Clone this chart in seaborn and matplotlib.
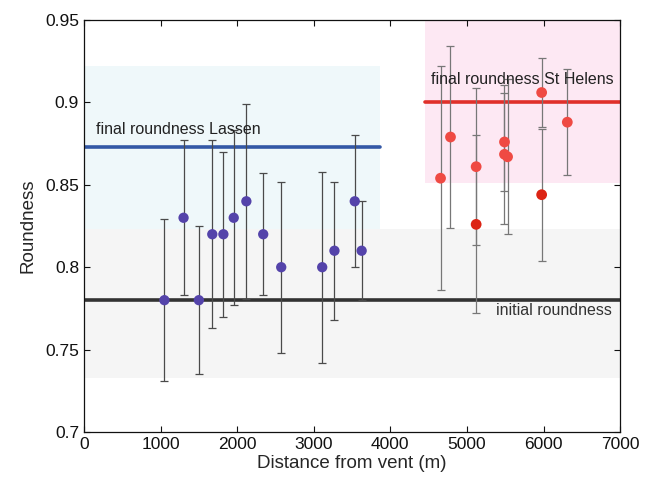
import matplotlib
matplotlib.use("Agg")
import matplotlib.pyplot as plt
import seaborn as sns
import pandas as pd
from matplotlib.patches import Rectangle
from matplotlib.ticker import FormatStrFormatter

# ---- data ----
lassen_dist = [1050, 1300, 1500, 1675, 1820, 1955, 2120, 2340, 2575, 3110, 3270, 3535, 3625]
lassen_round = [0.78, 0.83, 0.78, 0.82, 0.82, 0.83, 0.84, 0.82, 0.80, 0.80, 0.81, 0.84, 0.81]
lassen_err = [0.049, 0.047, 0.045, 0.057, 0.050, 0.053, 0.059, 0.037, 0.052, 0.058, 0.042, 0.040, 0.030]

sth_dist = [4655, 4785, 5120, 5120, 5490, 5490, 5530, 5975, 5975, 6310]
sth_round = [0.854, 0.879, 0.861, 0.826, 0.876, 0.8685, 0.867, 0.906, 0.844, 0.888]
sth_err = [0.068, 0.055, 0.0475, 0.054, 0.0295, 0.042, 0.047, 0.021, 0.040, 0.032]
sth_group = ["a", "a", "a", "b", "a", "a", "a", "a", "b", "a"]

initial_round = 0.780
initial_band = (0.733, 0.823)
lassen_final = 0.873
lassen_band = (0.823, 0.922)
lassen_xmax = 3865
sth_final = 0.900
sth_band = (0.851, 0.95)
sth_xmin = 4455

x_ticks = [0, 1000, 2000, 3000, 4000, 5000, 6000, 7000]
y_ticks = [0.7, 0.75, 0.8, 0.85, 0.9, 0.95]

# ---- style ----
sns.set_style("ticks")
plt.rcParams["font.family"] = ["Liberation Sans", "DejaVu Sans"]

fig = plt.figure(figsize=(6.46, 4.82), dpi=100)
ax = fig.add_axes([0.130, 0.1037, 0.830, 0.8548])

# background bands
ax.add_patch(Rectangle((0, initial_band[0]), 7000, initial_band[1] - initial_band[0],
                       facecolor="#f5f5f5", edgecolor="none", zorder=0))
ax.add_patch(Rectangle((0, lassen_band[0]), lassen_xmax, lassen_band[1] - lassen_band[0],
                       facecolor="#eff8fa", edgecolor="none", zorder=0))
ax.add_patch(Rectangle((sth_xmin, sth_band[0]), 7000 - sth_xmin, sth_band[1] - sth_band[0],
                       facecolor="#fde8f3", edgecolor="none", zorder=0))

# reference lines
ax.plot([0, lassen_xmax], [lassen_final, lassen_final], color="#3358a6", lw=2.6, zorder=2)
ax.plot([sth_xmin, 7000], [sth_final, sth_final], color="#e0302a", lw=2.6, zorder=2)
ax.plot([0, 7000], [initial_round, initial_round], color="#333333", lw=2.6, zorder=2)

# error bars
ax.errorbar(lassen_dist, lassen_round, yerr=lassen_err, fmt="none",
            ecolor="#4a4a4a", elinewidth=0.9, capsize=2.8, capthick=0.9, zorder=3)
ax.errorbar(sth_dist, sth_round, yerr=sth_err, fmt="none",
            ecolor="#777777", elinewidth=0.9, capsize=2.8, capthick=0.9, zorder=3)

# points
df_l = pd.DataFrame({"d": lassen_dist, "r": lassen_round})
df_s = pd.DataFrame({"d": sth_dist, "r": sth_round, "g": sth_group})
sns.scatterplot(data=df_l, x="d", y="r", ax=ax, color="#5443aa", s=55,
                edgecolor="none", zorder=4, legend=False)
sns.scatterplot(data=df_s, x="d", y="r", hue="g", ax=ax,
                palette={"a": "#ef4a43", "b": "#dc2414"}, s=60,
                edgecolor="none", zorder=4, legend=False)

# annotations
ax.text(160, 0.8838, "final roundness Lassen", fontsize=11.5, color="#222222",
        ha="left", va="center", zorder=5)
ax.text(5718, 0.9136, "final roundness St Helens", fontsize=11.5, color="#222222",
        ha="center", va="center", zorder=5)
ax.text(6890, 0.774, "initial roundness", fontsize=11.5, color="#333333",
        ha="right", va="center", zorder=5)

ax.set_xlim(0, 7000)
ax.set_ylim(0.7, 0.95)
ax.set_xticks(x_ticks)
ax.set_yticks(y_ticks)
ax.yaxis.set_major_formatter(FormatStrFormatter("%g"))
ax.tick_params(direction="in", length=4, width=0.8, top=True, right=True,
               labelsize=12.5, colors="#111111")
for sp in ax.spines.values():
    sp.set_visible(True)
    sp.set_linewidth(0.9)
    sp.set_color("#111111")

ax.set_xlabel("Distance from vent (m)", fontsize=13.5, labelpad=2)
ax.set_ylabel("Roundness", fontsize=13.5, labelpad=6)

fig.savefig("out.png", dpi=100)
